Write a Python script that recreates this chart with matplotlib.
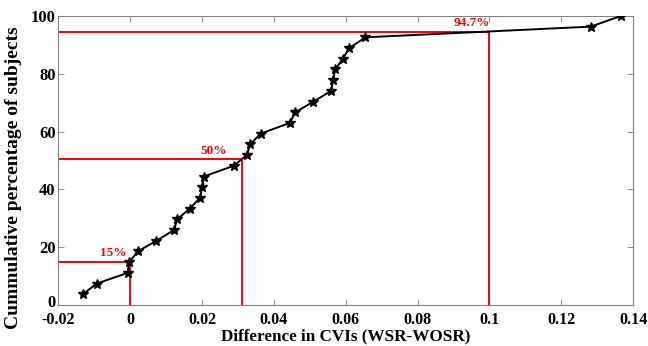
import matplotlib
matplotlib.use('Agg')
import matplotlib.pyplot as plt
import matplotlib.transforms as mtransforms
import numpy as np

# difference in CVIs per subject (sorted) and cumulative percentage
cvi_diff = [-0.0132, -0.0093, -0.0007, -0.0003, 0.0021, 0.0073, 0.0122, 0.0131,
            0.0166, 0.0194, 0.0201, 0.0205, 0.0288, 0.0325, 0.0334, 0.0363,
            0.0444, 0.0460, 0.0510, 0.0560, 0.0564, 0.0571, 0.0592, 0.0610,
            0.0655, 0.1282, 0.1367]
cum_pct = [100.0 * (i + 1) / len(cvi_diff) for i in range(len(cvi_diff))]

# reference lines: (x, y, label)
ref_x = [0.0, 0.031, 0.1]
ref_y = [15.0, 50.4, 94.6]
ref_labels = ['15%', '50%', '94.7%']

plt.rcParams['font.family'] = 'Liberation Serif'
plt.rcParams['font.weight'] = 'bold'

fig = plt.figure(figsize=(6.48, 3.46), dpi=100)
ax = fig.add_axes([0.090, 0.1185, 0.887, 0.8355])

lab_shift = [-0.0048, -0.0077, -0.0048]
for x, y, lab, dx in zip(ref_x, ref_y, ref_labels, lab_shift):
    ax.plot([-0.02, x], [y, y], color='red', linewidth=1.4, zorder=2)
    ax.plot([x, x], [0, y], color='red', linewidth=1.4, zorder=2)
    ax.text(x + dx, y + 0.8, lab, color='red', fontsize=9.5, fontweight='bold',
            ha='center', va='bottom')

ax.plot(cvi_diff, cum_pct, color='black', linewidth=1.4, marker='*',
        markersize=7, zorder=3)

ax.set_xlim(-0.02, 0.14)
ax.set_ylim(0, 100)
ax.set_xticks(np.arange(-0.02, 0.141, 0.02))
ax.set_xticklabels(['-0.02', '0', '0.02', '0.04', '0.06', '0.08', '0.1', '0.12', '0.14'])
ax.set_yticks([0, 20, 40, 60, 80, 100])
ax.tick_params(direction='in', top=True, right=True, length=4, width=0.6,
               color='#808080', labelsize=11.5)
ax.tick_params(axis='x', pad=5)
ax.tick_params(axis='y', pad=2, labelsize=12)
for lbl in ax.get_xticklabels() + ax.get_yticklabels():
    lbl.set_fontweight('bold')
# lift the "0" on the y axis a little so it clears "-0.02"
y0 = ax.get_yticklabels()[0]
y0.set_transform(y0.get_transform() + mtransforms.ScaledTranslation(0, 3 / 72, fig.dpi_scale_trans))
for sp in ax.spines.values():
    sp.set_color('#808080')
    sp.set_linewidth(0.8)

ax.set_xlabel('Difference in CVIs (WSR-WOSR)', fontsize=12.3, fontweight='bold', labelpad=0)
ax.set_ylabel('Cummulative percentage of subjects', fontsize=14, fontweight='bold')
ax.yaxis.set_label_coords(-0.064, 0.44)

fig.savefig('out.png', dpi=100)
